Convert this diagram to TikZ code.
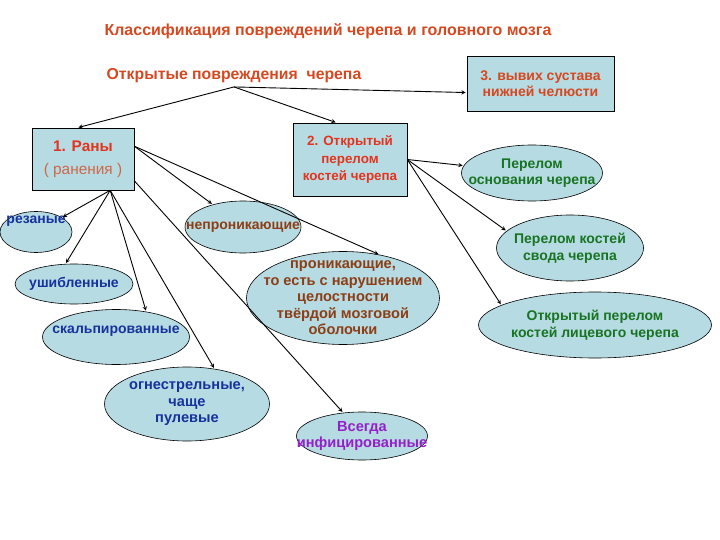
\documentclass[tikz,border=0pt]{standalone}
\usepackage{fontspec}
\setmainfont{Liberation Sans}
\usetikzlibrary{shapes.geometric}

\definecolor{paleblue}{RGB}{182,219,226}
\definecolor{headred}{RGB}{214,72,32}
\definecolor{boxred}{RGB}{226,52,30}
\definecolor{softred}{RGB}{206,104,74}
\definecolor{cutblue}{RGB}{22,50,156}
\definecolor{cutbrown}{RGB}{140,62,22}
\definecolor{cutgreen}{RGB}{24,116,34}
\definecolor{cutpurple}{RGB}{150,32,200}

\begin{document}
\begin{tikzpicture}[%
    >=stealth,
    shorten >=1pt,
    x=1pt, y=-1pt,
    line width=0.9pt,
    every node/.style={font=\bfseries\fontsize{14}{16.5}\selectfont},
    box/.style={draw, line width=0.6pt, fill=paleblue, rectangle, align=center, inner sep=0pt},
    cut/.style={draw, line width=0.6pt, fill=paleblue, ellipse, align=center, inner sep=-30pt},
    big/.style={font=\bfseries\fontsize{14.6}{16.5}\selectfont}
  ]
  \useasboundingbox (0,0) rectangle (720,540);

  % headings
  \node[text=headred, font=\bfseries\fontsize{16}{18}\selectfont] (title) at (328,31)
    {Классификация повреждений черепа и головного мозга};
  \node[text=headred, font=\bfseries\fontsize{15.8}{18}\selectfont] (open) at (234,76)
    {Открытые повреждения \ черепа};

  % three kinds
  \node[box, minimum width=102, minimum height=62, font=\fontsize{15.4}{23}\selectfont] (rany) at (83,159)
    {\textcolor{boxred}{\bfseries 1. Раны}\\ \textcolor{softred}{( ранения )}};
  \node[box, text=boxred, minimum width=114, minimum height=73, font=\bfseries\fontsize{13.4}{17.5}\selectfont] (box2) at (350,159.5)
    {2. Открытый\\ перелом\\ костей черепа};
  \node[box, text=headred, minimum width=147, minimum height=55] (box3) at (540.5,83.5)
    {3. вывих сустава\\ нижней челюсти};

  % wounds
  \node[cut, text=cutblue, minimum width=72, minimum height=41, text height=9pt, text depth=25pt] (rez) at (36,232) {резаные};
  \node[cut, text=cutblue, minimum width=118, minimum height=40] (ush) at (74,284) {ушибленные};
  \node[cut, text=cutblue, minimum width=147, minimum height=55, text height=9pt, text depth=16pt] (skalp) at (116,337) {скальпированные};
  \node[cut, big, text=cutblue, minimum width=165, minimum height=74] (ogn) at (187,404) {огнестрельные,\\ чаще\\ пулевые};
  \node[cut, text=cutbrown, minimum width=116, minimum height=52] (nepr) at (243,227) {непроникающие};
  \node[cut, big, text=cutbrown, minimum width=193, minimum height=93] (pron) at (343,298)
    {проникающие,\\ то есть с нарушением\\ целостности\\ твёрдой мозговой\\ оболочки};
  \node[cut, big, text=cutpurple, minimum width=131, minimum height=48] (vseg) at (362,436) {Всегда\\ инфицированные};

  % fractures
  \node[cut, text=cutgreen, minimum width=141, minimum height=56] (osn) at (532,173) {Перелом\\ основания черепа};
  \node[cut, text=cutgreen, minimum width=147, minimum height=66] (svod) at (570,248) {Перелом костей\\ свода черепа};
  \node[cut, text=cutgreen, minimum width=233, minimum height=66] (lic) at (595,325) {Открытый перелом\\ костей лицевого черепа};

  \path[->]
              (open.south) edge (rany.100)
              (open.south) edge (box2.110)
              (open.south) edge (box3.187)
              (rany.311)   edge (rez)
              (rany.311)   edge (ush.113)
              (rany.311)   edge (skalp.40)
              (rany.311)   edge (ogn.52)
              (rany.14)    edge (nepr)
              (rany.14)    edge (pron.50)
              (rany.337)   edge (vseg.129)
              (box2.east)  edge (osn)
              (box2.east)  edge (svod.165)
              (box2.east)  edge (lic.168);
\end{tikzpicture}
\end{document}
